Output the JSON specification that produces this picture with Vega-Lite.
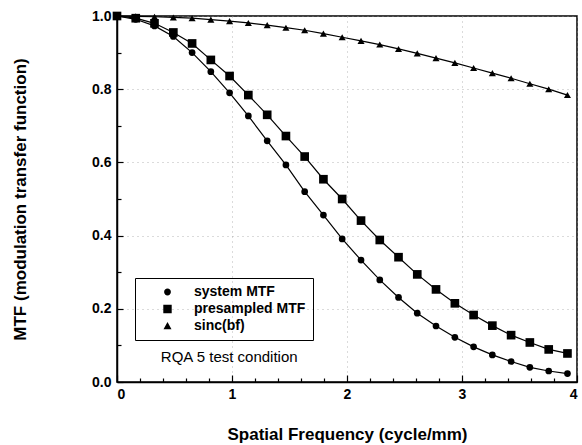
{
  "$schema": "https://vega.github.io/schema/vega-lite/v6.json",
  "width": 460,
  "height": 366,
  "autosize": {"type": "none"},
  "padding": {"left": 117, "top": 16, "right": 5, "bottom": 63},
  "background": "white",
  "config": {
    "view": {"stroke": "black", "strokeWidth": 1.5},
    "axis": {
      "labelFont": "Liberation Sans",
      "labelFontWeight": "bold",
      "labelFontSize": 14,
      "labelColor": "black",
      "titleFont": "Liberation Sans",
      "titleFontWeight": "bold",
      "titleFontSize": 17,
      "titleColor": "black",
      "domainColor": "black",
      "domainWidth": 1.5,
      "tickColor": "black",
      "tickWidth": 1.2
    },
    "legend": {
      "labelFont": "Liberation Sans",
      "labelFontWeight": "bold",
      "labelFontSize": 14,
      "labelColor": "black"
    }
  },
  "data": {
    "values": [
      {"f": 0, "mtf": 1.0, "series": "system MTF"},
      {"f": 0.163, "mtf": 0.991, "series": "system MTF"},
      {"f": 0.326, "mtf": 0.973, "series": "system MTF"},
      {"f": 0.49, "mtf": 0.944, "series": "system MTF"},
      {"f": 0.653, "mtf": 0.9, "series": "system MTF"},
      {"f": 0.816, "mtf": 0.848, "series": "system MTF"},
      {"f": 0.979, "mtf": 0.79, "series": "system MTF"},
      {"f": 1.142, "mtf": 0.727, "series": "system MTF"},
      {"f": 1.306, "mtf": 0.659, "series": "system MTF"},
      {"f": 1.469, "mtf": 0.593, "series": "system MTF"},
      {"f": 1.632, "mtf": 0.52, "series": "system MTF"},
      {"f": 1.795, "mtf": 0.456, "series": "system MTF"},
      {"f": 1.958, "mtf": 0.391, "series": "system MTF"},
      {"f": 2.122, "mtf": 0.333, "series": "system MTF"},
      {"f": 2.285, "mtf": 0.279, "series": "system MTF"},
      {"f": 2.448, "mtf": 0.231, "series": "system MTF"},
      {"f": 2.611, "mtf": 0.188, "series": "system MTF"},
      {"f": 2.774, "mtf": 0.153, "series": "system MTF"},
      {"f": 2.938, "mtf": 0.122, "series": "system MTF"},
      {"f": 3.101, "mtf": 0.096, "series": "system MTF"},
      {"f": 3.264, "mtf": 0.074, "series": "system MTF"},
      {"f": 3.427, "mtf": 0.056, "series": "system MTF"},
      {"f": 3.59, "mtf": 0.04, "series": "system MTF"},
      {"f": 3.754, "mtf": 0.03, "series": "system MTF"},
      {"f": 3.917, "mtf": 0.023, "series": "system MTF"},
      {"f": 0, "mtf": 1.0, "series": "presampled MTF"},
      {"f": 0.163, "mtf": 0.994, "series": "presampled MTF"},
      {"f": 0.326, "mtf": 0.98, "series": "presampled MTF"},
      {"f": 0.49, "mtf": 0.955, "series": "presampled MTF"},
      {"f": 0.653, "mtf": 0.925, "series": "presampled MTF"},
      {"f": 0.816, "mtf": 0.88, "series": "presampled MTF"},
      {"f": 0.979, "mtf": 0.836, "series": "presampled MTF"},
      {"f": 1.142, "mtf": 0.784, "series": "presampled MTF"},
      {"f": 1.306, "mtf": 0.73, "series": "presampled MTF"},
      {"f": 1.469, "mtf": 0.672, "series": "presampled MTF"},
      {"f": 1.632, "mtf": 0.616, "series": "presampled MTF"},
      {"f": 1.795, "mtf": 0.554, "series": "presampled MTF"},
      {"f": 1.958, "mtf": 0.5, "series": "presampled MTF"},
      {"f": 2.122, "mtf": 0.441, "series": "presampled MTF"},
      {"f": 2.285, "mtf": 0.388, "series": "presampled MTF"},
      {"f": 2.448, "mtf": 0.341, "series": "presampled MTF"},
      {"f": 2.611, "mtf": 0.294, "series": "presampled MTF"},
      {"f": 2.774, "mtf": 0.253, "series": "presampled MTF"},
      {"f": 2.938, "mtf": 0.215, "series": "presampled MTF"},
      {"f": 3.101, "mtf": 0.183, "series": "presampled MTF"},
      {"f": 3.264, "mtf": 0.154, "series": "presampled MTF"},
      {"f": 3.427, "mtf": 0.128, "series": "presampled MTF"},
      {"f": 3.59, "mtf": 0.108, "series": "presampled MTF"},
      {"f": 3.754, "mtf": 0.089, "series": "presampled MTF"},
      {"f": 3.917, "mtf": 0.078, "series": "presampled MTF"},
      {"f": 0, "mtf": 1.0, "series": "sinc(bf)"},
      {"f": 0.163, "mtf": 0.999, "series": "sinc(bf)"},
      {"f": 0.326, "mtf": 0.998, "series": "sinc(bf)"},
      {"f": 0.49, "mtf": 0.996, "series": "sinc(bf)"},
      {"f": 0.653, "mtf": 0.994, "series": "sinc(bf)"},
      {"f": 0.816, "mtf": 0.99, "series": "sinc(bf)"},
      {"f": 0.979, "mtf": 0.986, "series": "sinc(bf)"},
      {"f": 1.142, "mtf": 0.981, "series": "sinc(bf)"},
      {"f": 1.306, "mtf": 0.975, "series": "sinc(bf)"},
      {"f": 1.469, "mtf": 0.968, "series": "sinc(bf)"},
      {"f": 1.632, "mtf": 0.961, "series": "sinc(bf)"},
      {"f": 1.795, "mtf": 0.952, "series": "sinc(bf)"},
      {"f": 1.958, "mtf": 0.942, "series": "sinc(bf)"},
      {"f": 2.122, "mtf": 0.932, "series": "sinc(bf)"},
      {"f": 2.285, "mtf": 0.922, "series": "sinc(bf)"},
      {"f": 2.448, "mtf": 0.91, "series": "sinc(bf)"},
      {"f": 2.611, "mtf": 0.898, "series": "sinc(bf)"},
      {"f": 2.774, "mtf": 0.885, "series": "sinc(bf)"},
      {"f": 2.938, "mtf": 0.872, "series": "sinc(bf)"},
      {"f": 3.101, "mtf": 0.858, "series": "sinc(bf)"},
      {"f": 3.264, "mtf": 0.844, "series": "sinc(bf)"},
      {"f": 3.427, "mtf": 0.83, "series": "sinc(bf)"},
      {"f": 3.59, "mtf": 0.815, "series": "sinc(bf)"},
      {"f": 3.754, "mtf": 0.8, "series": "sinc(bf)"},
      {"f": 3.917, "mtf": 0.784, "series": "sinc(bf)"}
    ]
  },
  "layer": [
    {
      "mark": {"type": "line", "color": "black", "strokeWidth": 1.2},
      "encoding": {
        "x": {
          "field": "f", "type": "quantitative",
          "scale": {"domain": [0, 4], "nice": false, "zero": false},
          "axis": {
            "orient": "bottom",
            "values": [0, 1, 2, 3, 4], "format": "d",
            "tickSize": -7, "labelPadding": 12,
            "grid": true, "gridColor": "#999", "gridDash": [1, 4], "gridOpacity": 0.7,
            "title": "Spatial Frequency (cycle/mm)", "titlePadding": 25
          }
        },
        "y": {
          "field": "mtf", "type": "quantitative",
          "scale": {"domain": [0, 1], "nice": false},
          "axis": {
            "orient": "left",
            "values": [0, 0.2, 0.4, 0.6, 0.8, 1.0], "format": ".1f",
            "tickSize": -6, "labelPadding": 12,
            "grid": true, "gridColor": "#999", "gridDash": [1, 4], "gridOpacity": 0.7,
            "title": "MTF (modulation transfer function)", "titlePadding": 62
          }
        },
        "detail": {"field": "series"}
      }
    },
    {
      "transform": [{"filter": "datum.series === 'sinc(bf)'"}],
      "mark": {"type": "point", "filled": true, "color": "black", "opacity": 1, "shape": "triangle-up", "size": 50},
      "encoding": {
        "x": {
          "field": "f", "type": "quantitative",
          "axis": {
            "orient": "bottom",
            "values": [0.2, 0.4, 0.6, 0.8, 1.2, 1.4, 1.6, 1.8, 2.2, 2.4, 2.6, 2.8, 3.2, 3.4, 3.6, 3.8],
            "tickSize": -4, "labels": false, "domain": false, "grid": false, "title": null
          }
        },
        "y": {
          "field": "mtf", "type": "quantitative",
          "axis": {
            "orient": "left",
            "values": [0.1, 0.3, 0.5, 0.7, 0.9],
            "tickSize": -4, "labels": false, "domain": false, "grid": false, "title": null
          }
        }
      }
    },
    {
      "transform": [{"filter": "datum.series === 'presampled MTF'"}],
      "mark": {"type": "point", "filled": true, "color": "black", "opacity": 1, "shape": "square", "size": 75},
      "encoding": {
        "x": {"field": "f", "type": "quantitative", "axis": null},
        "y": {"field": "mtf", "type": "quantitative", "axis": null}
      }
    },
    {
      "transform": [{"filter": "datum.series === 'system MTF'"}],
      "mark": {"type": "point", "filled": true, "color": "black", "opacity": 1, "shape": "circle", "size": 45},
      "encoding": {
        "x": {"field": "f", "type": "quantitative", "axis": null},
        "y": {"field": "mtf", "type": "quantitative", "axis": null}
      }
    },
    {
      "transform": [{"filter": "datum.f > 100"}],
      "mark": {"type": "point", "filled": true, "fill": "black", "stroke": "black", "strokeWidth": 1.2, "opacity": 1},
      "encoding": {
        "x": {"field": "f", "type": "quantitative", "axis": null},
        "y": {"field": "mtf", "type": "quantitative", "axis": null},
        "shape": {
          "field": "series", "type": "nominal",
          "scale": {
            "domain": ["system MTF", "presampled MTF", "sinc(bf)"],
            "range": [
              "M-5.6,0H5.6M-0.85,0A0.85,0.85 0 1,0 0.85,0A0.85,0.85 0 1,0 -0.85,0Z",
              "M-5.6,0H5.6M-1.05,-1.05H1.05V1.05H-1.05Z",
              "M-5.6,0H5.6M0,-1L1,0.8H-1Z"
            ]
          },
          "legend": {
            "title": null,
            "orient": "none",
            "legendX": 18,
            "legendY": 262,
            "strokeColor": "black",
            "padding": 7,
            "rowPadding": 3,
            "symbolSize": 64,
            "symbolOffset": 18.5,
            "labelOffset": 19.5,
            "symbolFillColor": "black",
            "symbolStrokeColor": "black",
            "symbolStrokeWidth": 1.2,
            "symbolOpacity": 1,
            "encode": {
              "legend": {
                "strokeWidth": {"value": 2.5}
              },
              "symbols": {
                "stroke": {"value": "black"},
                "strokeWidth": {"value": 1.2}
              }
            }
          }
        }
      }
    },
    {
      "data": {"values": [{"label": "RQA 5 test condition"}]},
      "mark": {"type": "text", "font": "Liberation Sans", "fontSize": 15, "fontWeight": "normal", "color": "black", "align": "center", "baseline": "middle"},
      "encoding": {
        "x": {"datum": 0.976, "type": "quantitative", "axis": null},
        "y": {"datum": 0.069, "type": "quantitative", "axis": null},
        "text": {"field": "label"}
      }
    }
  ],
  "resolve": {"axis": {"x": "independent", "y": "independent"}}
}
